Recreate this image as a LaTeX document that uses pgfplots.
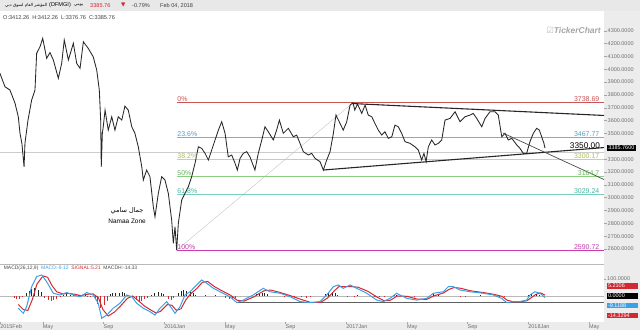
\documentclass[border=0pt]{standalone}
\usepackage{pgfplots}
\pgfplotsset{compat=1.18}
\usepackage{fontspec}
\setmainfont{Liberation Sans}
\newfontfamily\arabicfont[Script=Arabic]{DejaVu Sans}
\newfontfamily\symfont{DejaVu Sans}
\TeXXeTstate=1
\definecolor{fibA}{RGB}{200,85,85}
\definecolor{fibB}{RGB}{110,180,215}
\definecolor{fibC}{RGB}{200,215,120}
\definecolor{fibD}{RGB}{140,205,130}
\definecolor{fibE}{RGB}{120,205,190}
\definecolor{fibF}{RGB}{200,60,175}
\definecolor{labA}{RGB}{200,80,80}
\definecolor{labB}{RGB}{80,160,200}
\definecolor{labC}{RGB}{170,190,80}
\definecolor{labD}{RGB}{100,180,90}
\definecolor{labE}{RGB}{70,180,160}
\definecolor{labF}{RGB}{190,60,170}
\definecolor{macdblue}{RGB}{60,160,230}
\definecolor{macdred}{RGB}{210,40,50}
\definecolor{stripgray}{RGB}{236,236,236}
\definecolor{headgray}{RGB}{232,232,232}
\definecolor{axtext}{RGB}{110,110,110}
\begin{document}
\begin{tikzpicture}[x=1bp,y=1bp]
\useasboundingbox (0,0) rectangle (640,330);
\fill[white] (0,0) rectangle (640,330);
\fill[headgray] (0,319) rectangle (640,330);
\fill[stripgray] (604,0) rectangle (640,319);
\fill[stripgray] (0,0) rectangle (640,8);
\draw[gray!55, line width=0.7pt] (0,66) -- (604,66);
% header
\begin{scope}[every node/.style={inner sep=0pt, font=\fontsize{5.6}{6.5}\selectfont}]
\node[anchor=west, font=\fontsize{4.2}{5}\selectfont] at (5,324.5) {\arabicfont\beginR المؤشر العام لسوق دبي\endR};
\node[anchor=west] at (49,324.5) {(DFMGI)};
\node[anchor=west, font=\fontsize{4.2}{5}\selectfont] at (74,324.5) {\arabicfont\beginR يومي\endR};
\node[anchor=west, text=macdred] at (90,324.5) {3385.76};
\node[anchor=west, text=macdred] at (121,324.5) {\symfont ▼};
\node[anchor=west, text=black!75] at (132,324.5) {-0.79\%};
\node[anchor=west, text=black!75] at (160,324.5) {Feb 04, 2018};
\node[anchor=west, text=black!75] at (3,312) {O:3412.26\ \ H:3412.26\ \ L:3376.76\ \ C:3385.76};
\end{scope}
\node[anchor=east, inner sep=0pt, text=gray!70, font=\fontsize{8.5}{9}\selectfont\bfseries\itshape] at (601,300) {\textcolor{gray!50}{\symfont ☑}TickerChart};
% main price panel
\begin{axis}[at={(0bp,66bp)}, anchor=south west, scale only axis, width=604bp, height=252bp,
  xmin=0.464, xmax=40.28, ymin=2483, ymax=4446,
  axis line style={draw=none}, xtick=\empty,
  ytick={2600,2700,2800,2900,3000,3100,3200,3300,3500,3600,3700,3800,3900,4000,4100,4200,4300},
  yticklabel pos=right, tick align=outside, major tick length=2.5bp,
  tick style={gray!70, line width=0.4pt},
  yticklabel style={font=\fontsize{5.5}{6}\selectfont, text=axtext, anchor=west, inner sep=1bp},
  yticklabel={\pgfmathprintnumber[fixed,fixed zerofill,precision=4,1000 sep={},assume math mode=true]{\tick}},
  clip=false]
% 3350 level line
\addplot[gray!40, line width=1pt] coordinates {(0.464,3350) (40.28,3350)};
% fib anchor line
\addplot[gray!45, line width=0.4pt] coordinates {(12.11,2590.72) (23.73,3738.69)};
% fib levels
\addplot[fibA, line width=1pt] coordinates {(12.11,3738.69) (40.28,3738.69)};
\addplot[fibB, line width=0.6pt] coordinates {(12.11,3467.77) (40.28,3467.77)};
\addplot[fibC, line width=0.5pt] coordinates {(12.11,3300.17) (40.28,3300.17)};
\addplot[fibD, line width=0.5pt] coordinates {(12.11,3164.70) (40.28,3164.70)};
\addplot[fibE, line width=0.5pt] coordinates {(12.11,3029.24) (40.28,3029.24)};
\addplot[fibF, line width=1pt] coordinates {(12.11,2590.72) (40.28,2590.72)};
% price
\addplot[black!85, line width=0.85pt] coordinates {
(0.46,3968) (0.79,3864) (1.12,3838) (1.45,3737) (1.67,3630) (1.78,3503) (1.91,3420) (2.05,3240) (2.11,3425)
(2.31,3604) (2.55,3760) (2.77,3838) (2.88,4124) (3.10,4175) (3.28,4241) (3.54,4085) (3.76,4130) (3.98,4072)
(4.31,3929) (4.53,4046) (4.70,4228) (4.97,4072) (5.30,4202) (5.52,4046) (5.74,4007) (5.96,4214) (6.28,4163)
(6.61,4097) (6.84,3994) (7.01,3838) (7.10,3604) (7.14,3240) (7.21,3500) (7.27,3552) (7.39,3682) (7.60,3526)
(7.83,3630) (8.04,3526) (8.26,3630) (8.49,3604) (8.70,3713) (8.92,3682) (9.15,3552) (9.36,3501) (9.58,3396)
(9.81,3240) (9.91,3137) (10.13,3215) (10.35,3163) (10.57,2929) (10.68,2851) (10.90,3033) (11.12,3163)
(11.34,3137) (11.56,3033) (11.78,2825) (11.89,2644) (12.00,2773) (12.11,2591) (12.22,2800) (12.44,2981)
(12.66,3033) (12.88,3085) (13.10,3163) (13.32,3267) (13.54,3396) (13.76,3384) (13.98,3345) (14.20,3293)
(14.42,3371) (14.64,3449) (14.86,3526) (15.08,3591) (15.30,3501) (15.51,3318) (15.74,3332) (15.96,3267)
(16.11,3215) (16.29,3306) (16.50,3345) (16.73,3358) (16.94,3318) (17.27,3215) (17.49,3345) (17.72,3449)
(17.93,3552) (18.15,3513) (18.48,3449) (18.70,3526) (18.88,3604) (19.14,3501) (19.47,3540) (19.80,3474)
(20.02,3487) (20.24,3423) (20.46,3358) (20.79,3332) (21.01,3345) (21.23,3306) (21.56,3280) (21.78,3215)
(22.00,3293) (22.22,3358) (22.44,3501) (22.61,3643) (22.88,3578) (23.09,3526) (23.32,3591) (23.54,3721)
(23.73,3739) (23.85,3682) (24.03,3729) (24.31,3656) (24.53,3721) (24.74,3643) (24.97,3630) (25.18,3578)
(25.40,3526) (25.63,3487) (25.84,3513) (26.06,3462) (26.29,3474) (26.50,3565) (26.72,3552) (26.94,3501)
(27.16,3436) (27.49,3423) (27.82,3396) (28.04,3371) (28.26,3293) (28.41,3345) (28.55,3280) (28.70,3396)
(28.92,3449) (29.14,3410) (29.36,3423) (29.58,3449) (29.80,3604) (30.13,3617) (30.46,3669) (30.79,3591)
(31.12,3630) (31.45,3643) (31.66,3656) (31.89,3617) (32.22,3552) (32.44,3617) (32.76,3669) (33.09,3669)
(33.31,3643) (33.54,3474) (33.75,3501) (33.97,3449) (34.20,3462) (34.53,3410) (34.74,3384) (34.96,3345)
(35.18,3345) (35.40,3436) (35.62,3501) (35.84,3540) (36.02,3526) (36.17,3474) (36.32,3423) (36.39,3386)
};
% trend lines
\addplot[black!85, line width=1.1pt] coordinates {(23.67,3733) (40.28,3640)};
\addplot[black!85, line width=1.1pt] coordinates {(21.76,3215) (40.28,3390)};
\addplot[black!70, line width=0.7pt] coordinates {(33.62,3503) (40.28,3141)};
% fib labels
\begin{scope}[every node/.style={inner sep=0.6bp, font=\fontsize{7}{8}\selectfont}]
\node[anchor=south west, text=labA] at (axis cs:12.11,3738.69) {0\%};
\node[anchor=south west, text=labB] at (axis cs:12.11,3467.77) {23.6\%};
\node[anchor=south west, text=labC] at (axis cs:12.11,3300.17) {38.2\%};
\node[anchor=south west, text=labD] at (axis cs:12.11,3164.70) {50\%};
\node[anchor=south west, text=labE] at (axis cs:12.11,3029.24) {61.8\%};
\node[anchor=south west, text=labF] at (axis cs:12.11,2590.72) {100\%};
\node[anchor=south east, text=labA] at (axis cs:40.02,3738.69) {3738.69};
\node[anchor=south east, text=labB] at (axis cs:40.02,3467.77) {3467.77};
\node[anchor=south east, text=labC] at (axis cs:40.02,3300.17) {3300.17};
\node[anchor=south east, text=labD] at (axis cs:40.02,3164.70) {3164.7};
\node[anchor=south east, text=labE] at (axis cs:40.02,3029.24) {3029.24};
\node[anchor=south east, text=labF] at (axis cs:40.02,2590.72) {2590.72};
\end{scope}
\node[anchor=base east, inner sep=0pt, font=\fontsize{8.3}{9}\selectfont] at (axis cs:40.02,3380) {3350.00};
\node[anchor=west, inner sep=1.2bp, fill=black, text=white, font=\fontsize{5.5}{6}\selectfont] at (axis cs:40.48,3385.76) {3385.7600};
\node[inner sep=0pt, font=\fontsize{6.5}{7}\selectfont] at (axis cs:8.84,2895) {\arabicfont\beginR جمال سامي\endR};
\node[inner sep=0pt, font=\fontsize{6.5}{7}\selectfont] at (axis cs:8.84,2815) {Namaa Zone};
\end{axis}
% MACD panel
\begin{axis}[at={(0bp,8bp)}, anchor=south west, scale only axis, width=604bp, height=58bp,
  xmin=0.464, xmax=40.28, ymin=-153, ymax=188,
  axis line style={draw=none},
  ytick={100}, yticklabel pos=right, tick align=outside, major tick length=2bp,
  tick style={gray!70, line width=0.4pt},
  yticklabel style={font=\fontsize{5.5}{6}\selectfont, text=axtext, anchor=west, inner sep=1bp},
  yticklabel={\pgfmathprintnumber[fixed,fixed zerofill,precision=4,1000 sep={},assume math mode=true]{\tick}},
  xtick={0.47,3.28,7.28,11.28,15.28,19.28,23.28,27.28,31.28,35.28,39.28},
  xticklabels={2015Feb,May,Sep,2016Jan,May,Sep,2017Jan,May,Sep,2018Jan,May},
  xtick pos=bottom,
  xticklabel style={font=\fontsize{5.5}{6}\selectfont, text=axtext, anchor=north west, inner sep=0.5bp, xshift=-0.5bp},
  clip=false]
\addplot[gray!55, line width=0.5pt] coordinates {(0.464,0) (40.28,0)};
\addplot[gray!75!black, line width=1pt] coordinates {(16.09,-41) (40.28,-41)};
% histogram
\addplot[ycomb, black!85, line width=1bp] coordinates {
(2.18,15) (2.38,30) (2.57,42) (2.77,45) (2.97,38) (3.17,25)
(4.68,5) (4.88,10) (5.08,8) (5.34,5) (5.61,3) (5.87,8) (6.07,10)
(7.72,10) (7.91,18) (8.11,20) (8.31,18) (8.51,22) (8.70,15) (8.90,8)
(10.48,5) (10.68,20) (10.88,25) (11.08,20) (11.27,10)
(12.20,20) (12.40,30) (12.59,35) (12.79,28) (12.99,25) (13.19,15) (13.38,8)
(13.98,8) (14.64,6)
(17.34,10) (17.54,15) (17.74,20) (17.93,18) (18.13,10)
(21.95,10) (22.15,18) (22.35,22) (22.55,15) (22.74,8) (24.06,5)
(26.44,8) (26.63,6) (28.81,8) (29.07,10) (29.34,6) (32.11,3)
(35.27,8) (35.53,14) (35.80,12) (36.06,6)
};
\addplot[ycomb, macdred, line width=1bp] coordinates {
(1.39,-10) (1.58,-18) (1.78,-15) (1.98,-8)
(3.43,-12) (3.63,-25) (3.83,-28) (4.02,-22) (4.22,-15) (4.42,-8)
(6.26,-5) (6.46,-8)
(6.73,-20) (6.92,-45) (7.12,-70) (7.32,-55) (7.52,-30)
(9.23,-10) (9.43,-22) (9.63,-30) (9.82,-28) (10.02,-18) (10.22,-10)
(11.54,-15) (11.74,-25) (11.93,-12)
(15.36,-10) (15.56,-18) (15.76,-20) (15.96,-12)
(19.25,-4) (19.91,-6) (20.37,-8) (20.64,-10) (20.90,-6)
(23.40,-5) (23.80,-6) (25.18,-6) (25.51,-8) (25.84,-5)
(27.36,-5) (27.82,-6) (30.79,-4) (31.18,-5)
(33.16,-6) (33.42,-10) (33.69,-8) (36.26,-6)
};
% signal
\addplot[macdred, line width=1pt] coordinates {
(1.67,-50) (2.00,-80) (2.30,-85) (2.60,-20) (2.90,70) (3.30,118) (3.60,110) (3.90,60) (4.20,25) (4.60,12)
(5.00,15) (5.40,10) (5.80,2) (6.20,10) (6.60,12) (6.95,-10) (7.25,-80) (7.60,-118) (8.00,-95) (8.40,-60)
(8.85,-15) (9.20,0) (9.55,-25) (10.00,-60) (10.40,-82) (10.75,-100) (11.05,-90) (11.50,-50) (11.80,-55)
(12.10,-85) (12.40,-75) (12.70,-25) (13.00,10) (13.45,45) (13.80,80) (14.15,85) (14.60,55) (15.00,35)
(15.65,5) (16.10,-25) (16.55,-30) (17.20,-5) (17.85,30) (18.30,35) (18.95,20) (19.60,2) (20.30,-20)
(20.95,-38) (21.60,-38) (22.05,-12) (22.50,30) (22.80,55) (23.15,55) (23.60,55) (24.05,52) (24.70,28)
(25.35,-8) (25.80,-28) (26.20,-25) (26.65,0) (27.30,-2) (27.95,-18) (28.60,-20) (29.05,0) (29.70,18)
(30.05,38) (30.40,50) (30.85,45) (31.50,30) (32.35,20) (33.00,10) (33.55,-2) (33.90,-25) (34.35,-35)
(34.80,-33) (35.20,-28) (35.45,-12) (35.80,10) (36.10,18) (36.39,5)
};
% macd
\addplot[macdblue, line width=1pt] coordinates {
(1.67,-72) (2.00,-102) (2.22,-63) (2.55,55) (2.88,114) (3.21,124) (3.54,84) (3.98,16) (4.42,6) (4.86,20)
(5.30,6) (5.74,-4) (6.18,20) (6.61,6) (6.94,-43) (7.17,-131) (7.50,-112) (7.93,-72) (8.37,-43) (8.82,6)
(9.15,-4) (9.48,-43) (9.91,-72) (10.35,-92) (10.68,-112) (11.01,-72) (11.45,-33) (11.78,-72) (12.00,-102)
(12.33,-63) (12.66,6) (12.99,25) (13.43,65) (13.76,94) (14.09,75) (14.53,45) (14.97,25) (15.62,-4)
(16.07,-39) (16.50,-24) (17.16,6) (17.82,45) (18.26,25) (18.92,16) (19.58,-4) (20.24,-33) (20.90,-39)
(21.56,-33) (22.00,6) (22.44,55) (22.77,65) (23.09,45) (23.54,65) (23.98,45) (24.64,16) (25.30,-24)
(25.73,-33) (26.17,-14) (26.61,16) (27.27,-14) (27.93,-24) (28.59,-14) (29.03,16) (29.69,25) (30.02,55)
(30.35,55) (30.79,35) (31.45,25) (32.32,16) (32.98,6) (33.53,-14) (33.87,-39) (34.30,-33) (34.74,-33)
(35.18,-24) (35.40,6) (35.73,25) (36.06,16) (36.39,-9)
};
\node[anchor=west, inner sep=0pt, font=\fontsize{5}{6}\selectfont] at (rel axis cs:0.006,0.93)
  {\textcolor{black!70}{MACD(26,12,9)}\ \ \textcolor{macdblue}{MACD:-9.12}\ \ \textcolor{macdred}{SIGNAL:5.21}\ \ \textcolor{black!70}{MACDH:-14.33}};
\begin{scope}[every node/.style={anchor=west, inner sep=0.8bp, text width=29bp, align=left, font=\fontsize{5.5}{6}\selectfont, text=white}]
\node[fill=macdred] at (axis cs:40.48,60) {5.2106};
\node[fill=black] at (axis cs:40.48,0) {0.0000};
\node[fill=macdblue] at (axis cs:40.48,-57) {-9.1188};
\node[fill=macdred] at (axis cs:40.48,-116) {-14.3294};
\end{scope}
\end{axis}
\end{tikzpicture}
\end{document}
